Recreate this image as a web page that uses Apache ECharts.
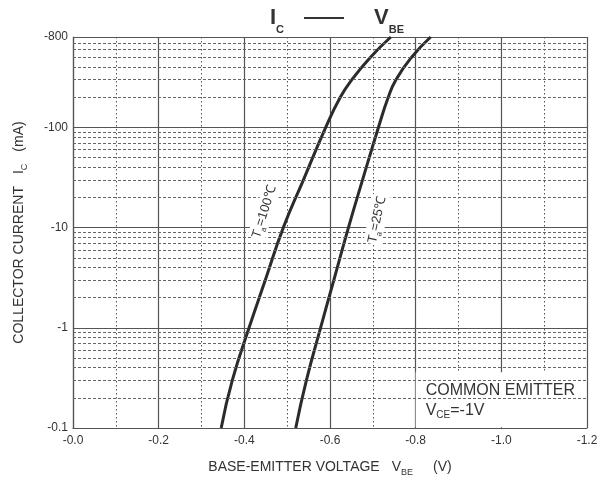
<!DOCTYPE html>
<html><head><meta charset="utf-8">
<script src="https://cdn.jsdelivr.net/npm/echarts@6/dist/echarts.min.js"></script>
<style>html,body{margin:0;padding:0;background:#fff}#c{width:603px;height:477px}</style>
</head><body><div id="c"></div>
<script>
// Magnitudes (sign shown in tick labels): |V_BE| in V, |I_C| in mA
const ic100  = [0.1,   0.3,   1,     3,     10,    30,    100,   200,   300,   500,   800];
const vbe100 = [0.346, 0.372, 0.411, 0.449, 0.491, 0.538, 0.590, 0.624, 0.651, 0.694, 0.742];
const ic25   = [0.1,   0.3,   1,     3,     10,    30,    100,   200,   300,   500,   800];
const vbe25  = [0.520, 0.545, 0.578, 0.609, 0.643, 0.676, 0.713, 0.736, 0.754, 0.790, 0.835];

const xTicks = [0, 0.2, 0.4, 0.6, 0.8, 1.0, 1.2];
const xTickLabels = ['-0.0', '-0.2', '-0.4', '-0.6', '-0.8', '-1.0', '-1.2'];
const yTicks = [0.1, 1, 10, 100, 800];
const yTickLabels = ['-0.1', '-1', '-10', '-100', '-800'];
const yMinor = [0.2,0.3,0.4,0.5,0.6,0.7,0.8,0.9, 2,3,4,5,6,7,8,9, 20,30,40,50,60,70,80,90, 200,300,400,500,600,700];

// annotation anchors (data space)
const label100 = [0.447, 14.4];
const label25 = [0.710, 12.0];
const noteBox = [[0.8, 0.102], [1.197, 0.36]];

const FONT = 'Liberation Sans, Arial, sans-serif';
const INK = '#333';
const GRID = '#555';

const chart = echarts.init(document.getElementById('c'), null, {renderer: 'canvas'});

function pair(xs, ys) { return xs.map((x, i) => [x, ys[i]]); }

const subRich = {
  a: {fontSize: 14, lineHeight: 20, fontFamily: FONT, color: INK},
  s: {fontSize: 9, lineHeight: 10, verticalAlign: 'bottom', fontFamily: FONT, color: INK},
  g: {width: 12},
  g2: {width: 20}
};

chart.setOption({
  animation: false,
  backgroundColor: '#fff',
  textStyle: {fontFamily: FONT},
  title: {
    left: 270, top: 0, padding: 0,
    text: '{b|I}{s|C}{g|}{d|——}{g2|}{b|V}{s|BE}',
    textStyle: {
      rich: {
        b: {fontSize: 22, fontWeight: 'bold', lineHeight: 35, fontFamily: FONT, color: INK},
        s: {fontSize: 11, lineHeight: 12, verticalAlign: 'bottom', fontFamily: FONT, color: INK},
        d: {fontSize: 20, lineHeight: 35, fontFamily: FONT, color: INK},
        g: {width: 20},
        g2: {width: 30}
      }
    }
  },
  grid: {left: 73, right: 16, top: 37, bottom: 49, show: false, containLabel: false, outerBoundsMode: 'none'},
  xAxis: {
    type: 'value', min: 0, max: 1.2, interval: 0.2,
    name: '{a|BASE-EMITTER VOLTAGE}{g|}{a|V}{s|BE}{g2|}{a|(V)}',
    nameLocation: 'middle', nameGap: 29,
    nameTextStyle: {rich: subRich},
    axisLine: {show: true, lineStyle: {color: GRID, width: 1.2}},
    axisTick: {show: false},
    axisLabel: {
      fontSize: 12, color: INK, fontFamily: FONT, margin: 7,
      formatter: v => {
        const i = xTicks.findIndex(t => Math.abs(t - v) < 1e-6);
        return i >= 0 ? xTickLabels[i] : '';
      }
    },
    splitLine: {show: true, lineStyle: {color: GRID, width: 1.2}},
    minorTick: {show: false, splitNumber: 2},
    minorSplitLine: {show: true, lineStyle: {color: GRID, width: 1, type: [1.5, 2.5]}}
  },
  yAxis: {
    type: 'log', min: 0.1, max: 800, logBase: 10,
    name: '{a|COLLECTOR CURRENT}{g|}{a|I}{s|C}{g|}{a|(mA)}',
    nameLocation: 'middle', nameGap: 44, nameRotate: 90,
    nameTextStyle: {rich: subRich},
    axisLine: {show: true, lineStyle: {color: GRID, width: 1.2}},
    axisTick: {show: false},
    axisLabel: {
      fontSize: 12, color: INK, fontFamily: FONT, margin: 5,
      showMaxLabel: true, showMinLabel: true,
      formatter: v => {
        const i = yTicks.findIndex(t => Math.abs(Math.log10(t) - Math.log10(v)) < 0.01);
        return i >= 0 ? yTickLabels[i] : '';
      }
    },
    splitLine: {show: true, lineStyle: {color: GRID, width: 1.2}}
  },
  series: [
    {
      name: 'minor', type: 'line', data: [], z: 1, silent: true,
      markLine: {
        silent: true, symbol: ['none', 'none'], animation: false,
        label: {show: false},
        lineStyle: {color: '#666', width: 1, type: [3, 2]},
        data: yMinor.map(v => ({yAxis: v}))
      }
    },
    {
      name: 'box', type: 'line', data: [], z: 2, silent: true,
      markArea: {
        silent: true, animation: false,
        itemStyle: {color: '#fff'},
        label: {
          show: true, position: 'insideTopLeft', distance: 8, offset: [2, 0],
          formatter: '{a|COMMON EMITTER}\n{a|V}{s|CE}{a|=-1V}',
          rich: {
            a: {fontSize: 16, lineHeight: 20, fontFamily: FONT, color: INK},
            s: {fontSize: 10, lineHeight: 10, verticalAlign: 'bottom', fontFamily: FONT, color: INK}
          }
        },
        data: [[{coord: noteBox[0]}, {coord: noteBox[1]}]]
      }
    },
    {
      name: 'Ta=100', type: 'line', data: pair(vbe100, ic100), z: 3,
      smooth: 0.5, showSymbol: false, symbol: 'none',
      lineStyle: {color: '#2b2b2b', width: 3},
      markPoint: {
        symbol: 'circle', symbolSize: 0, silent: true, animation: false,
        label: {
          show: true, position: 'inside', rotate: 72,
          backgroundColor: '#fff', padding: [0, 1],
          formatter: '{a|T}{s|a}{a|=100℃}',
          rich: {
            a: {fontSize: 13, lineHeight: 18, fontFamily: FONT, color: INK},
            s: {fontSize: 8, lineHeight: 8, verticalAlign: 'bottom', fontFamily: FONT, color: INK}
          }
        },
        data: [{coord: label100}]
      }
    },
    {
      name: 'Ta=25', type: 'line', data: pair(vbe25, ic25), z: 3,
      smooth: 0.5, showSymbol: false, symbol: 'none',
      lineStyle: {color: '#2b2b2b', width: 3},
      markPoint: {
        symbol: 'circle', symbolSize: 0, silent: true, animation: false,
        label: {
          show: true, position: 'inside', rotate: 78,
          backgroundColor: '#fff', padding: [0, 1],
          formatter: '{a|T}{s|a}{a|=25℃}',
          rich: {
            a: {fontSize: 13, lineHeight: 18, fontFamily: FONT, color: INK},
            s: {fontSize: 8, lineHeight: 8, verticalAlign: 'bottom', fontFamily: FONT, color: INK}
          }
        },
        data: [{coord: label25}]
      }
    }
  ]
});
</script>
</body></html>
